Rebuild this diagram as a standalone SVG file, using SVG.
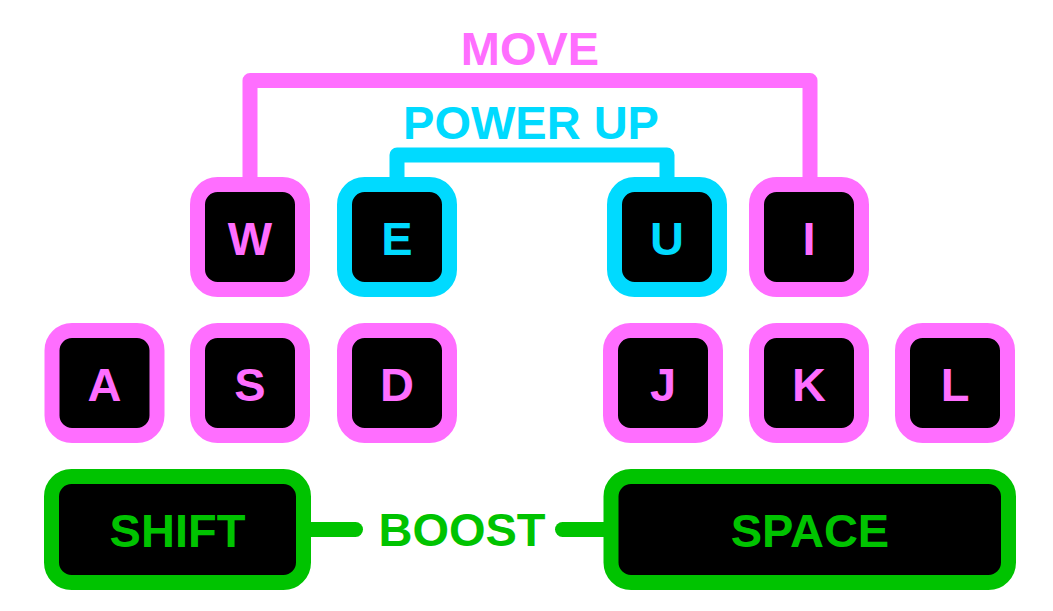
<svg xmlns="http://www.w3.org/2000/svg" width="1053" height="611" viewBox="0 0 1053 611">
<style>
.k{fill:#000;stroke-width:15}
.p{stroke:#FF6EFF}
.c{stroke:#00DAFF}
.g{stroke:#00C300}
.t{font-family:"Liberation Sans",Arial,sans-serif;font-weight:bold;font-size:47px;text-anchor:middle}
.tp{fill:#FF6EFF}
.tc{fill:#00DAFF}
.tg{fill:#00C300}
.ln{fill:none;stroke-width:15;stroke-linejoin:round;stroke-linecap:round}
</style>
<rect width="1053" height="611" fill="#fff"/>
<g id="connectors">
<path class="ln p" d="M250 190 V80.5 H810 V190"/>
<path class="ln c" d="M397 190 V155 H667 V190"/>
<path class="ln g" d="M300 529.5 H355.5"/>
<path class="ln g" d="M562.5 529.5 H615"/>
</g>
<g id="labels">
<text class="t tp" x="530" y="65">MOVE</text>
<text class="t tc" x="531" y="139">POWER UP</text>
<text class="t tg" x="462" y="546">BOOST</text>
</g>
<g id="key-W"><rect class="k p" x="197.5" y="184.5" width="105" height="105" rx="20"/><text class="t tp" x="250" y="255">W</text></g>
<g id="key-E"><rect class="k c" x="344.5" y="184.5" width="105" height="105" rx="20"/><text class="t tc" x="397" y="255">E</text></g>
<g id="key-U"><rect class="k c" x="614.5" y="184.5" width="105" height="105" rx="20"/><text class="t tc" x="667" y="255">U</text></g>
<g id="key-I"><rect class="k p" x="756.5" y="184.5" width="105" height="105" rx="20"/><text class="t tp" x="809" y="255">I</text></g>
<g id="key-A"><rect class="k p" x="52" y="330.5" width="105" height="105" rx="20"/><text class="t tp" x="104.5" y="401">A</text></g>
<g id="key-S"><rect class="k p" x="197.5" y="330.5" width="105" height="105" rx="20"/><text class="t tp" x="250" y="401">S</text></g>
<g id="key-D"><rect class="k p" x="344.5" y="330.5" width="105" height="105" rx="20"/><text class="t tp" x="397" y="401">D</text></g>
<g id="key-J"><rect class="k p" x="610.5" y="330.5" width="105" height="105" rx="20"/><text class="t tp" x="663" y="401">J</text></g>
<g id="key-K"><rect class="k p" x="756.5" y="330.5" width="105" height="105" rx="20"/><text class="t tp" x="809" y="401">K</text></g>
<g id="key-L"><rect class="k p" x="902.5" y="330.5" width="105" height="105" rx="20"/><text class="t tp" x="955" y="401">L</text></g>
<g id="key-SHIFT"><rect class="k g" x="51.5" y="476.5" width="252" height="106" rx="20"/><text class="t tg" x="177.5" y="547">SHIFT</text></g>
<g id="key-SPACE"><rect class="k g" x="611" y="476.5" width="397.5" height="106" rx="20"/><text class="t tg" x="810" y="547">SPACE</text></g>
</svg>
